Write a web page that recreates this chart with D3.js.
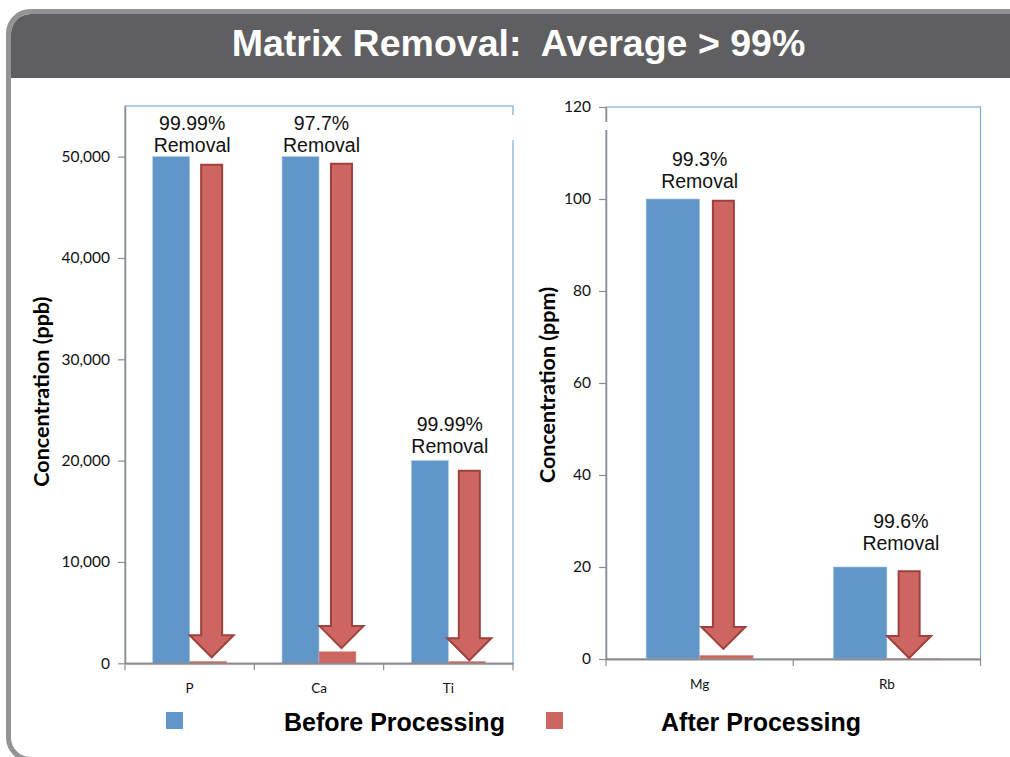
<!DOCTYPE html>
<html>
<head>
<meta charset="utf-8">
<script src="https://cdn.jsdelivr.net/npm/d3@7"></script>
<style>
  html, body { margin: 0; padding: 0; background: #ffffff; }
  svg { display: block; }
</style>
</head>
<body>
<svg id="chart" width="1010" height="757"></svg>
<script>
// ---------------- DATA ----------------
const titleText = "Matrix Removal:  Average > 99%";
const seriesNames = ["Before Processing", "After Processing"];

const leftCategories = ["P", "Ca", "Ti"];
const leftBefore = [50000, 50000, 20000];
const leftAfter = [200, 1150, 200];
const leftTicks = [0, 10000, 20000, 30000, 40000, 50000];
const leftRemoval = ["99.99%", "97.7%", "99.99%"];
const leftArrowFrom = [49200, 49300, 19000];
const leftArrowTo = [600, 1500, 300];
const leftAxisTitle = "Concentration (ppb)";

const rightCategories = ["Mg", "Rb"];
const rightBefore = [100, 20];
const rightAfter = [0.8, 0.08];
const rightTicks = [0, 20, 40, 60, 80, 100, 120];
const rightRemoval = ["99.3%", "99.6%"];
const rightArrowFrom = [99.6, 19.1];
const rightArrowTo = [2.2, 0.2];
const rightAxisTitle = "Concentration (ppm)";

// ---------------- STYLE / LAYOUT ----------------
const BLUE = "#6196c8", RED = "#cd6661", RED_DARK = "#a0403d";
const AXIS = "#8c8c8c", FRAME = "#7fa8d8";
const svg = d3.select("#chart");

// slide frame
svg.append("rect").attr("x", 8.5).attr("y", 11.5).attr("width", 1100).attr("height", 748)
  .attr("rx", 22).attr("fill", "#ffffff").attr("stroke", "#939395").attr("stroke-width", 5);
// dark title band with rounded top-left corner
svg.append("path")
  .attr("d", "M11,78 L11,34 A20,20 0 0 1 31,14 L1010,14 L1010,78 Z")
  .attr("fill", "#5f5f61");
svg.append("text").attr("x", 518.5).attr("y", 56)
  .attr("text-anchor", "middle").attr("fill", "#ffffff")
  .style("white-space", "pre").attr("xml:space", "preserve")
  .attr("font-family", "Liberation Sans, Arial, sans-serif").attr("font-weight", "bold")
  .attr("font-size", 37.5).text(titleText);

function drawPanel(cfg) {
  const g = svg.append("g");
  const x0 = d3.scaleBand().domain(cfg.cats).range(cfg.xr).paddingInner(0).paddingOuter(0);
  const x1 = d3.scaleBand().domain([0, 1]).range([0, x0.bandwidth()]).paddingInner(0).paddingOuter(0.75);
  const y = d3.scaleLinear().domain([0, cfg.max]).range(cfg.yr);

  // plot frame
  g.append("rect").attr("x", cfg.xr[0]).attr("y", cfg.yr[1])
    .attr("width", cfg.xr[1] - cfg.xr[0]).attr("height", cfg.yr[0] - cfg.yr[1])
    .attr("fill", "none").attr("stroke", FRAME).attr("stroke-width", 1.2);

  const rows = cfg.cats.map((c, i) => ({ c, i, vals: [cfg.before[i], cfg.after[i]] }));
  // bars
  rows.forEach(r => {
    r.vals.forEach((v, s) => {
      g.append("rect")
        .attr("x", x0(r.c) + x1(s)).attr("width", x1.bandwidth())
        .attr("y", y(v)).attr("height", y(0) - y(v))
        .attr("fill", s === 0 ? BLUE : RED)
        .attr("stroke", s === 0 ? "#a9c5e4" : "#e29a95").attr("stroke-width", 0.6);
    });
  });

  // y axis
  const ya = g.append("g").attr("transform", `translate(${cfg.xr[0]},0)`)
    .call(d3.axisLeft(y).tickValues(cfg.ticks).tickSize(7).tickSizeOuter(0).tickPadding(8)
      .tickFormat(cfg.fmt));
  ya.select(".domain").attr("stroke", AXIS).attr("stroke-width", 1.5);
  ya.selectAll(".tick line").attr("stroke", AXIS).attr("stroke-width", 1.2);
  ya.selectAll(".tick text").attr("font-family", "Lato, 'Open Sans', sans-serif")
    .attr("font-size", 15.5).attr("fill", "#111");

  // x axis (labels centred, ticks at category boundaries)
  const xa = g.append("g").attr("transform", `translate(0,${y(0)})`)
    .call(d3.axisBottom(x0).tickSize(0).tickPadding(20));
  xa.select(".domain").attr("stroke", AXIS).attr("stroke-width", 2);
  xa.selectAll(".tick text").attr("font-family", "Lato, 'Open Sans', sans-serif")
    .attr("font-size", 13.5).attr("fill", "#111");
  const bounds = cfg.cats.map(c => x0(c)).concat([cfg.xr[1]]);
  g.selectAll(null).data(bounds).enter().append("line")
    .attr("x1", d => d).attr("x2", d => d)
    .attr("y1", y(0)).attr("y2", y(0) + 7)
    .attr("stroke", AXIS).attr("stroke-width", 1.2);

  // axis title
  g.append("text")
    .attr("transform", `translate(${cfg.titleX},${(cfg.yr[0] + cfg.yr[1]) / 2 + cfg.titleDy}) rotate(-90)`)
    .attr("text-anchor", "middle")
    .attr("font-family", "Lato, 'Open Sans', sans-serif").attr("font-weight", "bold")
    .attr("font-size", 21.5).attr("fill", "#000").text(cfg.title);

  // arrows
  rows.forEach(r => {
    const cx = x0(r.c) + x1(1) + x1.bandwidth() / 2 + cfg.arrowDx[r.i];
    const yt = y(cfg.from[r.i]), yb = y(cfg.to[r.i]);
    const sw = 10.5, hw = 22, hl = 22;
    const d = `M${cx - sw},${yt} L${cx + sw},${yt} L${cx + sw},${yb - hl} L${cx + hw},${yb - hl} ` +
      `L${cx},${yb} L${cx - hw},${yb - hl} L${cx - sw},${yb - hl} Z`;
    g.append("path").attr("d", d).attr("fill", RED)
      .attr("stroke", RED_DARK).attr("stroke-width", 2).attr("stroke-linejoin", "miter");
  });

  // removal annotations
  rows.forEach(r => {
    const cx = x0(r.c) + x0.bandwidth() / 2 + cfg.labDx[r.i];
    const base = y(cfg.before[r.i]) + cfg.labDy[r.i];
    const t = g.append("text").attr("text-anchor", "middle")
      .attr("font-family", "Liberation Sans, Arial, sans-serif")
      .attr("font-size", 19.5).attr("fill", "#111");
    t.append("tspan").attr("x", cx).attr("y", base - 22).text(cfg.removal[r.i]);
    t.append("tspan").attr("x", cx).attr("y", base).text("Removal");
  });
  return g;
}

const fmtComma = d3.format(",");
drawPanel({
  cats: leftCategories, before: leftBefore, after: leftAfter, ticks: leftTicks, max: 55000,
  xr: [125, 513], yr: [663.3, 106], fmt: fmtComma, title: leftAxisTitle, titleX: 49, titleDy: 7,
  removal: leftRemoval, from: leftArrowFrom, to: leftArrowTo,
  arrowDx: [3.5, 4, 2.5], labDx: [2.5, 2.5, 1.5], labDy: [-5, -5, -8]
});
drawPanel({
  cats: rightCategories, before: rightBefore, after: rightAfter, ticks: rightTicks, max: 120,
  xr: [606, 980.5], yr: [659, 107], fmt: d3.format("d"), title: rightAxisTitle, titleX: 555, titleDy: 2,
  removal: rightRemoval, from: rightArrowFrom, to: rightArrowTo,
  arrowDx: [-3, -4.5], labDx: [0, 14], labDy: [-11, -17]
});

// small gaps in frames seen in the original slide
svg.append("rect").attr("x", 510).attr("y", 115).attr("width", 6).attr("height", 25).attr("fill", "#fff");
svg.append("rect").attr("x", 603).attr("y", 122).attr("width", 6).attr("height", 8).attr("fill", "#fff");

// legend
const legend = [
  { name: seriesNames[0], color: BLUE, sx: 166, tx: 284 },
  { name: seriesNames[1], color: RED, sx: 546, tx: 661 }
];
legend.forEach(l => {
  svg.append("rect").attr("x", l.sx).attr("y", 712).attr("width", 17).attr("height", 17).attr("fill", l.color);
  svg.append("text").attr("x", l.tx).attr("y", 731)
    .attr("font-family", "Liberation Sans, Arial, sans-serif").attr("font-weight", "bold")
    .attr("font-size", 25).attr("fill", "#000").text(l.name);
});
</script>
</body>
</html>
